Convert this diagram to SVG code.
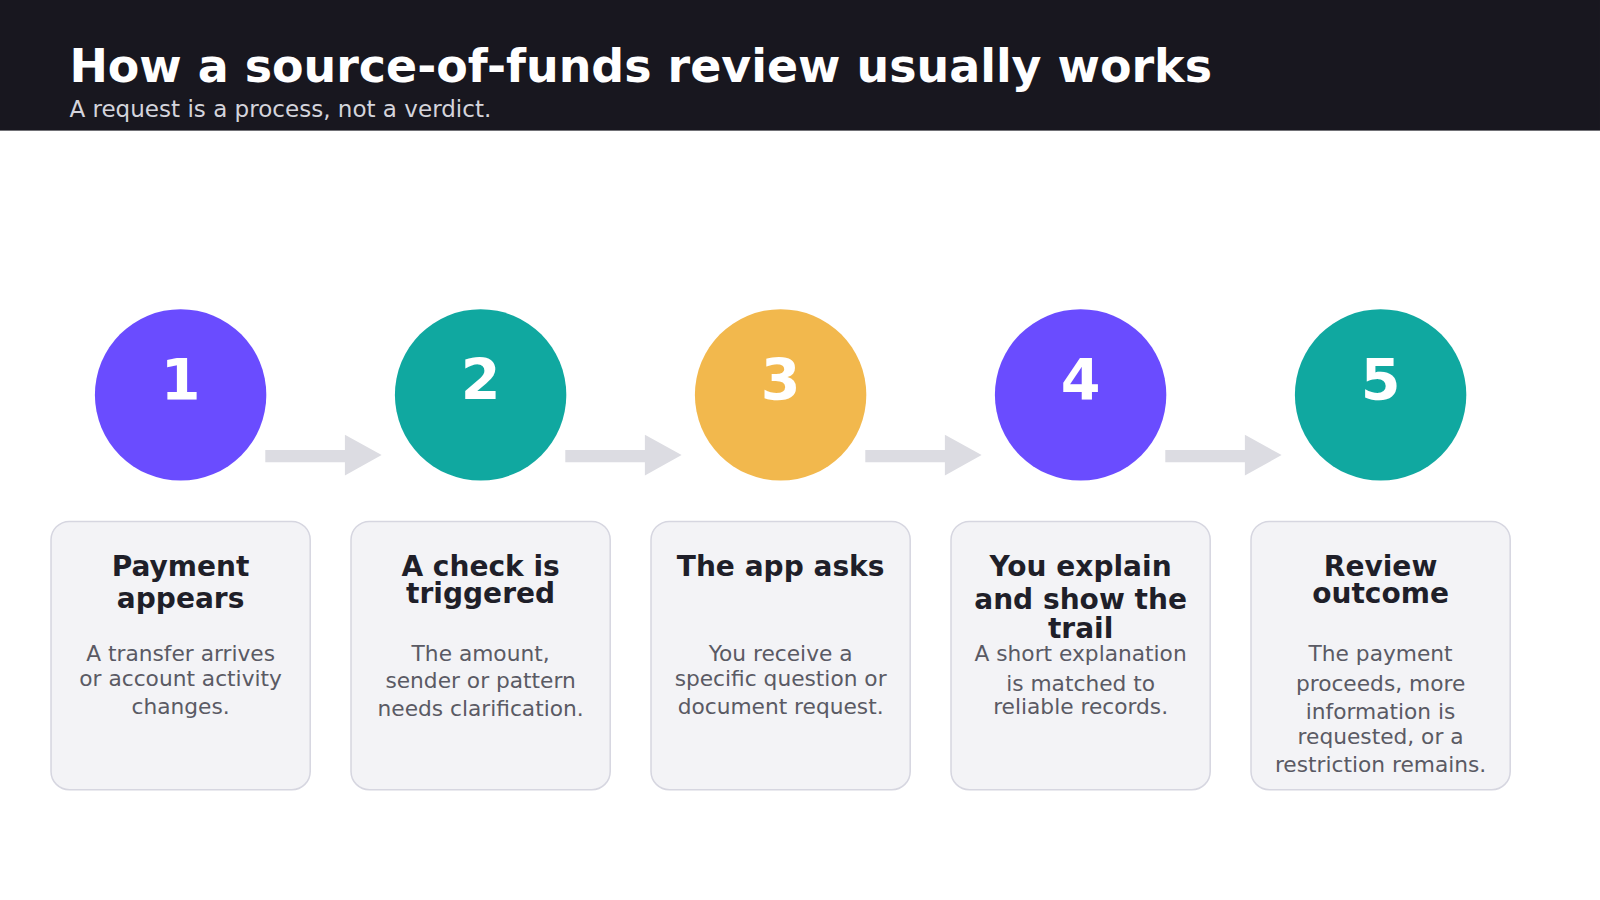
<svg xmlns="http://www.w3.org/2000/svg" width="1600" height="900" viewBox="0 0 1600 900">
<style>
text{font-family:"DejaVu Sans",sans-serif;text-anchor:middle}
.num{font-size:56px;font-weight:bold;fill:#fff}
.card{fill:#f3f3f6;stroke:#d6d6e0;stroke-width:1.5}
.t{font-size:27.5px;font-weight:bold;fill:#1f1f29}
.b{font-size:21.3px;fill:#5a5a64}
.arr{fill:#dcdce2}
</style>
<rect width="1600" height="900" fill="#fff"/>
<g transform="scale(1.0204)">
<rect width="1568" height="128" fill="#18171f"/>
<text x="68" y="80" style="font-size:45px;font-weight:bold;fill:#fff;text-anchor:start">How a source-of-funds review usually works</text>
<text x="68" y="115" style="font-size:22.6px;fill:#d4d4dc;text-anchor:start">A request is a process, not a verdict.</text>
<g id="connectors">
<path class="arr" d="M260 441H338V426L374 446L338 466V453H260Z"/>
<path class="arr" d="M554 441H632V426L668 446L632 466V453H554Z"/>
<path class="arr" d="M848 441H926V426L962 446L926 466V453H848Z"/>
<path class="arr" d="M1142 441H1220V426L1256 446L1220 466V453H1142Z"/>
</g>
<g id="step1"><circle cx="177" cy="387" r="84" fill="#6a4cff"/><text class="num" x="177" y="392">1</text>
<rect class="card" x="50" y="511" width="254" height="263" rx="18"/>
<text class="t" x="177" y="564">Payment</text><text class="t" x="177" y="596">appears</text>
<text class="b" x="177" y="648">A transfer arrives</text><text class="b" x="177" y="672">or account activity</text><text class="b" x="177" y="700">changes.</text></g>
<g id="step2"><circle cx="471" cy="387" r="84" fill="#10a8a0"/><text class="num" x="471" y="392">2</text>
<rect class="card" x="344" y="511" width="254" height="263" rx="18"/>
<text class="t" x="471" y="564">A check is</text><text class="t" x="471" y="591">triggered</text>
<text class="b" x="471" y="648">The amount,</text><text class="b" x="471" y="674">sender or pattern</text><text class="b" x="471" y="702">needs clarification.</text></g>
<g id="step3"><circle cx="765" cy="387" r="84" fill="#f2b84d"/><text class="num" x="765" y="392">3</text>
<rect class="card" x="638" y="511" width="254" height="263" rx="18"/>
<text class="t" x="765" y="564">The app asks</text>
<text class="b" x="765" y="648">You receive a</text><text class="b" x="765" y="672">specific question or</text><text class="b" x="765" y="700">document request.</text></g>
<g id="step4"><circle cx="1059" cy="387" r="84" fill="#6a4cff"/><text class="num" x="1059" y="392">4</text>
<rect class="card" x="932" y="511" width="254" height="263" rx="18"/>
<text class="t" x="1059" y="564">You explain</text><text class="t" x="1059" y="597">and show the</text><text class="t" x="1059" y="625">trail</text>
<text class="b" x="1059" y="648">A short explanation</text><text class="b" x="1059" y="677">is matched to</text><text class="b" x="1059" y="700">reliable records.</text></g>
<g id="step5"><circle cx="1353" cy="387" r="84" fill="#10a8a0"/><text class="num" x="1353" y="392">5</text>
<rect class="card" x="1226" y="511" width="254" height="263" rx="18"/>
<text class="t" x="1353" y="564">Review</text><text class="t" x="1353" y="591">outcome</text>
<text class="b" x="1353" y="648">The payment</text><text class="b" x="1353" y="677">proceeds, more</text><text class="b" x="1353" y="705">information is</text><text class="b" x="1353" y="729">requested, or a</text><text class="b" x="1353" y="757">restriction remains.</text></g>
</g>
</svg>
